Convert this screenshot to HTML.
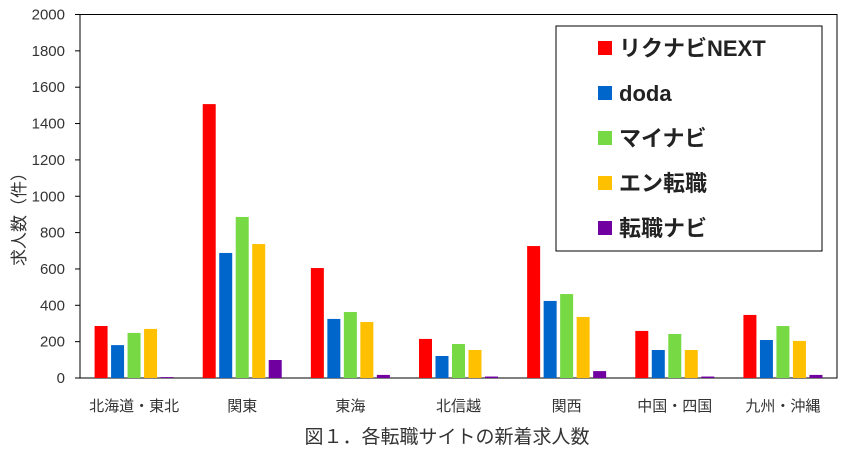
<!DOCTYPE html>
<html><head><meta charset="utf-8"><style>
body{margin:0;background:#fff;}
svg text{font-family:"Liberation Sans","Noto Sans CJK JP",sans-serif;}
</style></head><body>
<svg width="847" height="459" id="c"></svg>
<script>
const categories=["北海道・東北","関東","東海","北信越","関西","中国・四国","九州・沖縄"];
const seriesNames=["リクナビNEXT","doda","マイナビ","エン転職","転職ナビ"];
const seriesColors=["#ff0000","#0066cc","#77d944","#ffc000","#7000a0"];
const rikunabi=[286,1507,605,215,726,259,347];
const doda=[181,688,325,121,424,154,209];
const mynavi=[248,886,363,187,462,242,286];
const en=[270,737,308,154,336,154,204];
const tenshokunavi=[5,99,17,8,38,8,17];
const yTicks=[0,200,400,600,800,1000,1200,1400,1600,1800,2000];
const series=[rikunabi,doda,mynavi,en,tenshokunavi];
const NS="http://www.w3.org/2000/svg";
const svg=document.getElementById('c');
const L=80,R=837,T=14.5,B=378,maxV=2000;
const y=v=>B-(v/maxV)*(B-T);
const gw=(R-L)/categories.length;
const bw=13,step=16.5;
const x=(ci,si)=>L+gw*ci+gw/2+(si-2)*step-bw/2;
function mk(t,a){const e=document.createElementNS(NS,t);for(const k in a)e.setAttribute(k,a[k]);svg.appendChild(e);return e;}
let e;
e=mk('rect',{x:L,y:T,width:R-L,height:B-T,fill:'none',stroke:'#000','stroke-width':1});


yTicks.forEach(v=>{
 e=mk('line',{x1:L-5,x2:L,y1:y(v),y2:y(v),stroke:'#000'});
 
 
 e=mk('text',{x:65,y:y(v)+5,'text-anchor':'end','font-size':15,fill:'#333'});e.textContent=v;
 
 
});
series.forEach((s,si)=>s.forEach((v,ci)=>{
 e=mk('rect',{x:x(ci,si),y:y(v),width:bw,height:B-y(v),fill:seriesColors[si]});
 
 
}));
categories.forEach((c,ci)=>{
 e=mk('text',{x:L+gw*ci+gw/2,y:411,'text-anchor':'middle','font-size':15,fill:'#333'});e.textContent=c;
 
 
});
e=mk('text',{x:0,y:0,transform:'translate(25,215) rotate(-90)','text-anchor':'middle','font-size':17,fill:'#333'});e.textContent="求人数（件）";


e=mk('text',{x:447,y:443,'text-anchor':'middle','font-size':19,fill:'#333'});e.textContent="図１．各転職サイトの新着求人数";


e=mk('rect',{x:556,y:26,width:266,height:225,fill:'#fff',stroke:'#000'});


seriesNames.forEach((n,i)=>{
 const cy=48+i*45;
 e=mk('rect',{x:598,y:cy-7,width:14,height:14,fill:seriesColors[i]});
 
 
 e=mk('text',{x:619,y:cy+8,'font-size':22,'font-weight':'bold',fill:'#222'});e.textContent=n;
 
 
});
</script>
</body></html>
